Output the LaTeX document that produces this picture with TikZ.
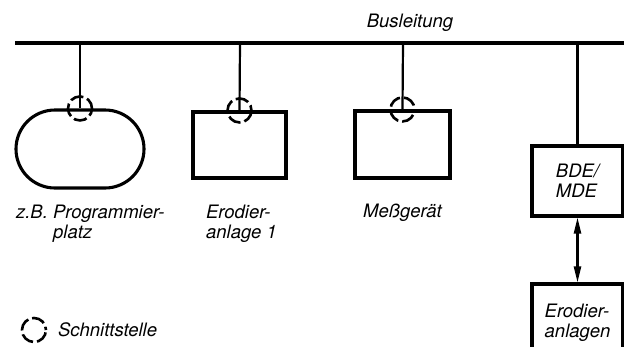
\documentclass[tikz,border=0pt]{standalone}
\usepackage{fontspec}
\usetikzlibrary{shapes.misc,arrows.meta}
\newfontfamily\heros{TeX Gyre Heros}

\tikzset{
  lbl/.style={font=\heros\itshape\fontsize{18.5}{20}\selectfont,
    align=left,inner sep=0pt},
  unit/.style={draw,line width=3.1pt,inner sep=0pt},
  port/.style={circle,draw,line width=2.6pt,minimum size=24pt,
    inner sep=0pt,dash pattern=on 13.3pt off 4pt,dash phase=2pt},
}

\begin{document}
\begin{tikzpicture}[x=1pt,y=-1pt,line width=2.2pt]
 \useasboundingbox (0,0) rectangle (624,346);
 \clip (0,0) rectangle (624,346);
 % bus line
 \coordinate (busL) at (15,43);
 \coordinate (busR) at (624,43);
 \draw[line width=3.2pt] (busL) -- (busR);
 \node[lbl,anchor=base] (bus) at (410,27) {Busleitung};
 \coordinate (b1) at (80,43);
 \coordinate (b2) at (240,43);
 \coordinate (b3) at (403,43);
 \coordinate (b4) at (577.5,43);
 % stations
 \node[unit,rounded rectangle,minimum width=128pt,
   minimum height=78pt] (prog) at (80,149) {};
 \node[unit,minimum width=93pt,minimum height=66pt] (er1) at (239.5,145) {};
 \node[unit,minimum width=95pt,minimum height=67pt] (mess) at (402.5,144.5) {};
 \node[unit,lbl,minimum width=91pt,minimum height=70pt] (bde)
   at (577.5,181) {BDE/\\MDE};
 \node[unit,lbl,minimum width=91pt,minimum height=78pt] (anl)
   at (577.5,323) {Erodier-\\anlagen};
 % interfaces
 \node[port] (p1) at (prog.north) {};
 \node[port,dash phase=8pt] (p2) at (er1.north) {};
 \node[port,dash phase=-4pt] (p3) at (mess.north) {};
 \draw (b1) -- (p1.center);
 \draw (b2) -- (p2.center);
 \draw (b3) -- (p3.center);
 \draw (b4) -- (bde.north);
 \draw[{Triangle[length=16pt,width=7pt]}-{Triangle[length=16pt,width=7pt]}]
   (bde.south) -- (anl.north);
 % labels (base = last line)
 \node[lbl,anchor=base west] (lprog) at (15,238)
   {z.B. Programmier-\\\phantom{z.B. }platz};
 \node[lbl,anchor=base west] (ler1) at (205,238) {Erodier-\\anlage 1};
 \node[lbl,anchor=base] (lmess) at (402.5,217) {Meßgerät};
 % legend
 \node[port,dash phase=10pt] (leg) at (34,330) {};
 \node[lbl,anchor=west] (lleg) at (57,330) {Schnittstelle};
\end{tikzpicture}
\end{document}
